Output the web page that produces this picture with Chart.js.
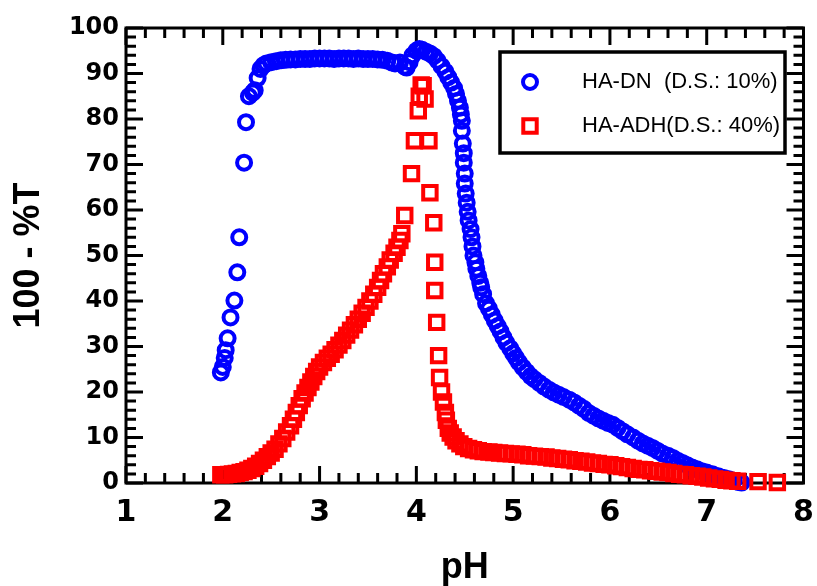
<!DOCTYPE html>
<html>
<head>
<meta charset="utf-8">
<title>100 - %T vs pH</title>
<script src="https://cdn.jsdelivr.net/npm/chart.js@4.4.0/dist/chart.umd.min.js"></script>
<style>
  html, body { margin: 0; padding: 0; background: #fff; }
  #wrap { width: 817px; height: 586px; }
</style>
</head>
<body>
<div id="wrap"><canvas id="phChart" width="817" height="586"></canvas></div>
<script>
// HA-DN (D.S.: 10%) - blue circles
const dnPH = [1.98, 2.0, 2.02, 2.03, 2.05, 2.08, 2.12, 2.15, 2.17, 2.22, 2.24, 2.27, 2.31, 2.33, 2.36, 2.39, 2.42, 2.45,
  2.5, 2.55, 2.6, 2.65, 2.7, 2.75, 2.8, 2.85, 2.9, 2.95, 3.0, 3.05, 3.1, 3.15, 3.2, 3.25, 3.3, 3.35, 3.4, 3.45, 3.5,
  3.55, 3.6, 3.65, 3.7, 3.75, 3.78, 3.83, 3.88, 3.9, 3.93, 3.96, 4.0, 4.03, 4.06, 4.1, 4.14, 4.18, 4.22, 4.26, 4.3,
  4.33, 4.36, 4.39, 4.41, 4.43, 4.45, 4.46, 4.47, 4.47, 4.48, 4.49, 4.49, 4.5, 4.5, 4.51, 4.52, 4.53, 4.54, 4.56,
  4.57, 4.58, 4.59, 4.61, 4.62, 4.64, 4.66, 4.67, 4.69, 4.72, 4.75, 4.78, 4.81, 4.84, 4.87, 4.9, 4.93, 4.97, 5.0,
  5.03, 5.06, 5.1, 5.14, 5.18, 5.22, 5.27, 5.32, 5.37, 5.42, 5.47, 5.52, 5.58, 5.63, 5.68, 5.73, 5.78, 5.83, 5.88,
  5.93, 5.98, 6.03, 6.08, 6.13, 6.18, 6.24, 6.29, 6.34, 6.39, 6.44, 6.49, 6.54, 6.6, 6.65, 6.7, 6.75, 6.8, 6.85,
  6.9, 6.95, 7.0, 7.06, 7.12, 7.18, 7.23, 7.28, 7.33, 7.36];
const dnValue = [24.3, 25.5, 27.5, 29.2, 31.8, 36.4, 40.1, 46.3, 54.0, 70.4, 79.3, 85.0, 85.8, 86.3, 89.0, 91.0, 91.8, 92.2,
  92.5, 92.7, 92.9, 93.0, 93.1, 93.1, 93.2, 93.2, 93.2, 93.3, 93.3, 93.3, 93.3, 93.2, 93.3, 93.3, 93.3, 93.2, 93.3, 93.2, 93.2,
  93.2, 93.1, 93.0, 92.8, 92.4, 92.2, 92.4, 91.5, 91.3, 92.5, 94.0, 95.0, 95.4, 95.2, 94.8, 94.4, 93.8, 92.8, 91.6, 90.4,
  89.2, 88.0, 86.8, 85.5, 84.0, 82.5, 81.0, 79.6, 77.4, 74.6, 72.5, 70.4, 68.0, 65.8, 63.6, 61.6, 59.6, 57.7, 55.8,
  54.0, 52.0, 50.0, 48.5, 47.1, 45.5, 44.0, 43.0, 41.5, 39.5, 38.3, 37.0, 35.7, 34.5, 33.3, 32.0, 30.8, 29.6, 28.5,
  27.5, 26.5, 25.4, 24.4, 23.5, 22.8, 22.0, 21.2, 20.5, 19.9, 19.4, 18.9, 18.3, 17.7, 17.0, 16.3, 15.4, 14.8, 14.2,
  13.7, 13.2, 12.8, 12.1, 11.4, 10.7, 10.0, 9.3, 8.7, 8.2, 7.7, 7.1, 6.5, 6.0, 5.5, 4.9, 4.4, 3.9, 3.4,
  3.0, 2.6, 2.3, 1.9, 1.5, 1.1, 0.8, 0.5, 0.2, 0.1];

// HA-ADH (D.S.: 40%) - red squares
const adhPH = [1.98, 2.02, 2.06, 2.1, 2.14, 2.18, 2.22, 2.26, 2.3, 2.34, 2.38, 2.42, 2.46, 2.5, 2.54, 2.58, 2.62, 2.66,
  2.7, 2.73, 2.76, 2.79, 2.82, 2.85, 2.88, 2.91, 2.94, 2.97, 3.0, 3.04, 3.08, 3.12, 3.16, 3.2, 3.24, 3.28, 3.32, 3.36,
  3.4, 3.44, 3.48, 3.52, 3.56, 3.6, 3.63, 3.66, 3.7, 3.73, 3.77, 3.8, 3.83, 3.85, 3.88, 3.95, 3.98, 4.02, 4.03, 4.05,
  4.07, 4.09, 4.13, 4.14, 4.18, 4.19, 4.19, 4.21, 4.23, 4.24, 4.26, 4.28, 4.3, 4.31, 4.33, 4.35, 4.38, 4.41, 4.45,
  4.49, 4.54, 4.59, 4.64, 4.69, 4.75, 4.8, 4.86, 4.92, 4.98, 5.04, 5.1, 5.16, 5.22, 5.28, 5.34, 5.4, 5.46, 5.52,
  5.58, 5.64, 5.7, 5.76, 5.82, 5.88, 5.94, 6.0, 6.06, 6.12, 6.18, 6.24, 6.3, 6.36, 6.42, 6.48, 6.54, 6.6, 6.66,
  6.72, 6.78, 6.84, 6.9, 6.96, 7.02, 7.08, 7.14, 7.2, 7.26, 7.32, 7.53, 7.73];
const adhValue = [1.8, 1.8, 1.9, 2.0, 2.1, 2.3, 2.5, 2.8, 3.2, 3.7, 4.3, 5.0, 5.8, 6.6, 7.4, 8.6, 9.8, 11.2,
  12.6, 14.0, 15.5, 17.0, 18.5, 19.8, 21.0, 22.2, 23.4, 24.5, 25.5, 26.5, 27.4, 28.3, 29.3, 30.3, 31.3, 32.5, 33.6, 34.8,
  36.0, 37.3, 38.6, 40.0, 41.5, 43.0, 44.5, 46.0, 47.5, 49.0, 50.5, 51.8, 53.3, 54.8, 58.8, 68.0, 75.2, 81.8, 85.0, 87.5,
  87.3, 84.4, 75.2, 63.8, 57.2, 48.5, 42.3, 35.3, 28.0, 23.2, 20.0, 17.8, 15.5, 13.8, 12.0, 11.0, 10.1, 9.3, 8.6,
  8.0, 7.6, 7.3, 7.1, 6.9, 6.8, 6.7, 6.6, 6.5, 6.4, 6.3, 6.2, 6.0, 5.9, 5.8, 5.7, 5.5, 5.4, 5.2,
  5.1, 4.9, 4.8, 4.6, 4.4, 4.3, 4.1, 4.0, 3.8, 3.6, 3.4, 3.2, 3.0, 2.9, 2.7, 2.6, 2.4, 2.3, 2.1,
  1.9, 1.8, 1.6, 1.5, 1.3, 1.1, 0.9, 0.8, 0.6, 0.5, 0.4, 0.3, 0.1, 0.1];

const xRange = [1, 8];
const yRange = [0, 100];

const toPoints = (xs, ys) => xs.map((x, i) => ({ x: x, y: ys[i] }));

// box frame with inward ticks on all four sides
const framePlugin = {
  id: "frame",
  beforeDatasetsDraw(chart) {
    const { ctx, chartArea: a, scales } = chart;
    const x = scales.x;
    const y = scales.y;
    ctx.save();
    ctx.strokeStyle = "#000";
    ctx.lineWidth = 3;
    ctx.lineCap = "butt";
    ctx.strokeRect(a.left, a.top, a.right - a.left, a.bottom - a.top);
    ctx.beginPath();
    for (let i = 0; i <= 35; i++) {
      const px = x.getPixelForValue(xRange[0] + i * 0.2);
      const len = i % 5 === 0 ? 17 : 10;
      ctx.moveTo(px, a.bottom);
      ctx.lineTo(px, a.bottom - len);
      ctx.moveTo(px, a.top);
      ctx.lineTo(px, a.top + len);
    }
    for (let i = 0; i <= 50; i++) {
      const py = y.getPixelForValue(yRange[0] + i * 2);
      const len = i % 5 === 0 ? 17 : 10;
      ctx.moveTo(a.left, py);
      ctx.lineTo(a.left + len, py);
      ctx.moveTo(a.right, py);
      ctx.lineTo(a.right - len, py);
    }
    ctx.stroke();
    ctx.restore();
  },
};

// legend box drawn inside the plot, top right
const legendPlugin = {
  id: "boxLegend",
  afterDraw(chart) {
    const ctx = chart.ctx;
    ctx.save();
    ctx.strokeStyle = "#000";
    ctx.lineWidth = 3.5;
    ctx.fillStyle = "#fff";
    ctx.fillRect(500, 52, 285, 101);
    ctx.strokeRect(500, 52, 285, 101);
    ctx.font = "22px 'Liberation Sans', Arial, sans-serif";
    ctx.textBaseline = "middle";
    const rows = [82, 126];
    chart.data.datasets.forEach((ds) => {
      const cy = rows[ds.legendRow];
      ctx.strokeStyle = ds.borderColor;
      ctx.lineWidth = ds.borderWidth;
      ctx.beginPath();
      if (ds.pointStyle === "rect") {
        const s = Math.SQRT1_2 * ds.pointRadius;
        ctx.rect(530 - s, cy - s, 2 * s, 2 * s);
      } else {
        ctx.arc(530, cy, ds.pointRadius, 0, Math.PI * 2);
      }
      ctx.stroke();
      ctx.fillStyle = "#000";
      ctx.fillText(ds.label, 582, cy);
    });
    ctx.restore();
  },
};

const ctx = document.getElementById("phChart").getContext("2d");

new Chart(ctx, {
  type: "scatter",
  data: {
    datasets: [
      {
        label: "HA-ADH(D.S.: 40%)",
        data: toPoints(adhPH, adhValue),
        pointStyle: "rect",
        pointRadius: 9.5,
        borderWidth: 4,
        borderColor: "#ff0000",
        backgroundColor: "rgba(0,0,0,0)",
        clip: false,
        legendRow: 1,
      },
      {
        label: "HA-DN  (D.S.: 10%)",
        data: toPoints(dnPH, dnValue),
        pointStyle: "circle",
        pointRadius: 7,
        borderWidth: 4,
        borderColor: "#0000ff",
        backgroundColor: "rgba(0,0,0,0)",
        clip: false,
        legendRow: 0,
      },
    ],
  },
  options: {
    responsive: false,
    animation: false,
    layout: { padding: { left: 0, right: 7, top: 28, bottom: 0 } },
    plugins: {
      legend: { display: false },
      tooltip: { enabled: false },
    },
    scales: {
      x: {
        type: "linear",
        min: xRange[0],
        max: xRange[1],
        grid: { display: false, drawTicks: false },
        border: { display: false },
        ticks: {
          stepSize: 1,
          padding: 12,
          color: "#000",
          font: { family: "DejaVu Sans", weight: "bold", size: 30 },
        },
        title: {
          display: true,
          text: "pH",
          color: "#000",
          padding: 0,
          font: { family: "Liberation Sans", weight: "bold", size: 36, lineHeight: 1 },
        },
        afterFit(scale) {
          scale.height = 103;
          scale.paddingLeft = 0;
          scale.paddingRight = 0;
        },
      },
      y: {
        type: "linear",
        min: yRange[0],
        max: yRange[1],
        grid: { display: false, drawTicks: false },
        border: { display: false },
        ticks: {
          stepSize: 10,
          padding: 7,
          color: "#000",
          font: { family: "DejaVu Sans", weight: "bold", size: 24 },
        },
        title: {
          display: true,
          text: "100 - %T",
          color: "#000",
          padding: 11,
          font: { family: "Liberation Sans", weight: "bold", size: 36, lineHeight: 1 },
        },
        afterFit(scale) {
          scale.width = 126;
          scale.paddingTop = 0;
          scale.paddingBottom = 0;
        },
      },
    },
  },
  plugins: [framePlugin, legendPlugin],
});
</script>
</body>
</html>
